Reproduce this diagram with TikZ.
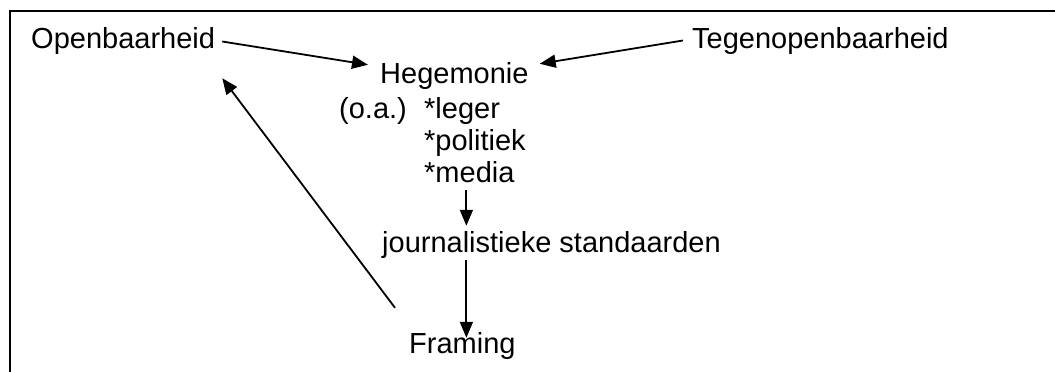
\documentclass[tikz,border=0pt]{standalone}
\usepackage{fontspec}
\setmainfont{Liberation Sans}
\usetikzlibrary{arrows.meta,calc}
\begin{document}
\begin{tikzpicture}[x=1pt,y=-1pt,
  lbl/.style={anchor=base west,inner sep=0pt,font=\fontsize{29}{32}\selectfont},
  conn/.style={line width=1.8pt},
  arr/.style={conn,-{Triangle[length=16pt,width=13pt]}},
  frame/.style={line width=2.2pt}]
\useasboundingbox (0,0) rectangle (1055,372);
\draw[frame] (10,372) -- (10,11) -- (1055,11);
\node[lbl] (open) at (31,48) {Openbaarheid};
\node[lbl] (tegen) at (692,48) {Tegenopenbaarheid};
\node[lbl] (heg) at (380,83) {Hegemonie};
\node[lbl] (oa) at (339,118) {(o.a.)};
\node[lbl] (leger) at (424,118) {*leger};
\node[lbl] (pol) at (424,150) {*politiek};
\node[lbl] (media) at (424,182) {*media};
\node[lbl] (jour) at (382,252) {journalistieke standaarden};
\node[lbl] (fram) at (409,353) {Framing};
\draw[arr] ($(open.east)+(7,1)$) -- ($(heg.north west)+(-12,3)$);
\draw[arr] ($(tegen.west)+(-9,0)$) -- ($(heg.north east)+(11,2)$);
\draw[arr] ($(media.south -| fram.north)+(4,8)$) -- ($(jour.north -| fram.north)+(4,-5)$);
\draw[arr] ($(jour.south -| fram.north)+(4,2)$) -- ($(fram.north)+(4,6)$);
\draw[arr] ($(fram.north west)+(-14,-24)$) -- ($(open.south east)+(7,24)$);
\end{tikzpicture}
\end{document}
